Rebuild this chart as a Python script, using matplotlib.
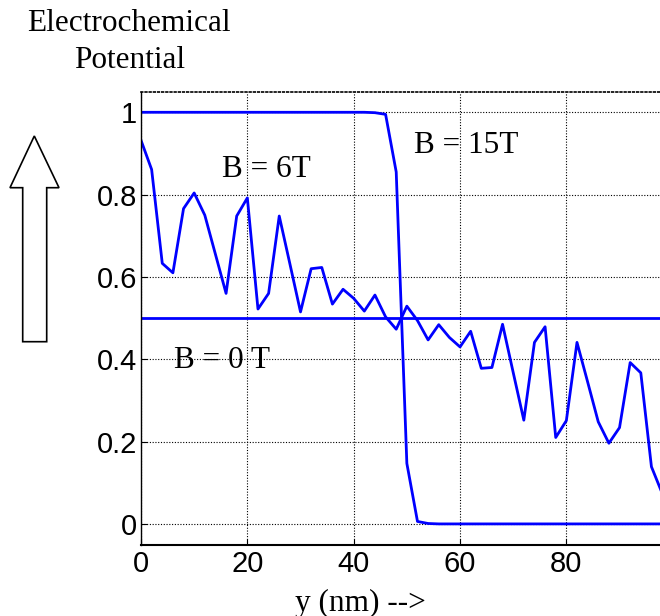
import numpy as np
import matplotlib
matplotlib.use("Agg")
import matplotlib.pyplot as plt
from matplotlib.patches import Polygon

# position across the channel (nm), sampled every 2 nm
y_nm = np.arange(0, 101, 2)

# electrochemical potential for the three fields
b0 = [0.5] * len(y_nm)
b6 = [0.932, 0.861, 0.633, 0.610, 0.766, 0.804, 0.750, 0.655, 0.560, 0.748,
      0.792, 0.522, 0.560, 0.748, 0.632, 0.515, 0.620, 0.623, 0.534, 0.570,
      0.548, 0.517, 0.556, 0.503, 0.473, 0.529, 0.494, 0.447, 0.484, 0.453,
      0.430, 0.468, 0.378, 0.380, 0.485, 0.368, 0.252, 0.441, 0.479, 0.210,
      0.251, 0.441, 0.345, 0.248, 0.196, 0.234, 0.392, 0.367, 0.139, 0.075,
      0.050]
b15 = [1.0] * 22 + [0.999, 0.995, 0.855, 0.147, 0.006, 0.001] + [0.0] * 23

x_ticks = [0, 20, 40, 60, 80]
y_ticks = [0, 0.2, 0.4, 0.6, 0.8, 1]
y_tick_labels = ["0", "0.2", "0.4", "0.6", "0.8", "1"]

W, H = 660, 616
serif = "Liberation Serif"
sans = "Liberation Sans"

fig = plt.figure(figsize=(W / 100, H / 100), dpi=100)
# axes runs a bit past the right edge of the picture (as in the original crop)
ax = fig.add_axes([141 / W, 71.5 / H, 531.7 / W, 452.8 / H])

blue = (0, 0, 1)
ax.plot(y_nm, b15, color=blue, lw=2)
ax.plot(y_nm, b6, color=blue, lw=2)
ax.plot(y_nm, b0, color=blue, lw=2)

ax.set_xlim(0, 100)
ax.set_ylim(-0.05, 1.05)
ax.set_xticks(x_ticks)
ax.set_yticks(y_ticks)
ax.set_yticklabels(y_tick_labels)
ax.grid(True, color="k", linestyle=(0, (1, 1.5)), lw=0.8)

ax.tick_params(direction="in", length=4, width=0.8, labelsize=21)
ax.tick_params(axis="x", pad=4)
ax.tick_params(axis="y", pad=3)
for lab in ax.get_xticklabels() + ax.get_yticklabels():
    lab.set_fontfamily(sans)

ax.spines["left"].set_linewidth(1.0)
ax.spines["bottom"].set_linewidth(1.5)
ax.spines["top"].set_linestyle((0, (1, 1.5)))
ax.spines["top"].set_linewidth(1.2)
ax.spines["right"].set_visible(False)

ax.text(23.6, 0.842, "B = 6T", ha="center", va="baseline", family=serif, size=22.5)
ax.text(61.1, 0.901, "B = 15T", ha="center", va="baseline", family=serif, size=22.5)
ax.text(15.3, 0.378, "B = 0 T", ha="center", va="baseline", family=serif, size=22.5)

fig.text(129 / W, 1 - 30.7 / H, "Electrochemical", ha="center", va="baseline",
         family=serif, size=22.5)
fig.text(130 / W, 1 - 68.3 / H, "Potential", ha="center", va="baseline",
         family=serif, size=22.5)
fig.text(360 / W, 1 - 610.5 / H, "y (nm) -->", ha="center", va="baseline",
         family=serif, size=22.5)

# hollow up arrow on the left
arrow_px = [(34.3, 136), (59, 187.7), (46.7, 187.7), (46.7, 341.7),
            (22.7, 341.7), (22.7, 187.7), (10, 187.7)]
arrow = Polygon([(x / W, 1 - y / H) for x, y in arrow_px], closed=True,
                transform=fig.transFigure, facecolor="white", edgecolor="black",
                lw=1.2)
fig.patches.append(arrow)

fig.savefig("out.png", dpi=100)
